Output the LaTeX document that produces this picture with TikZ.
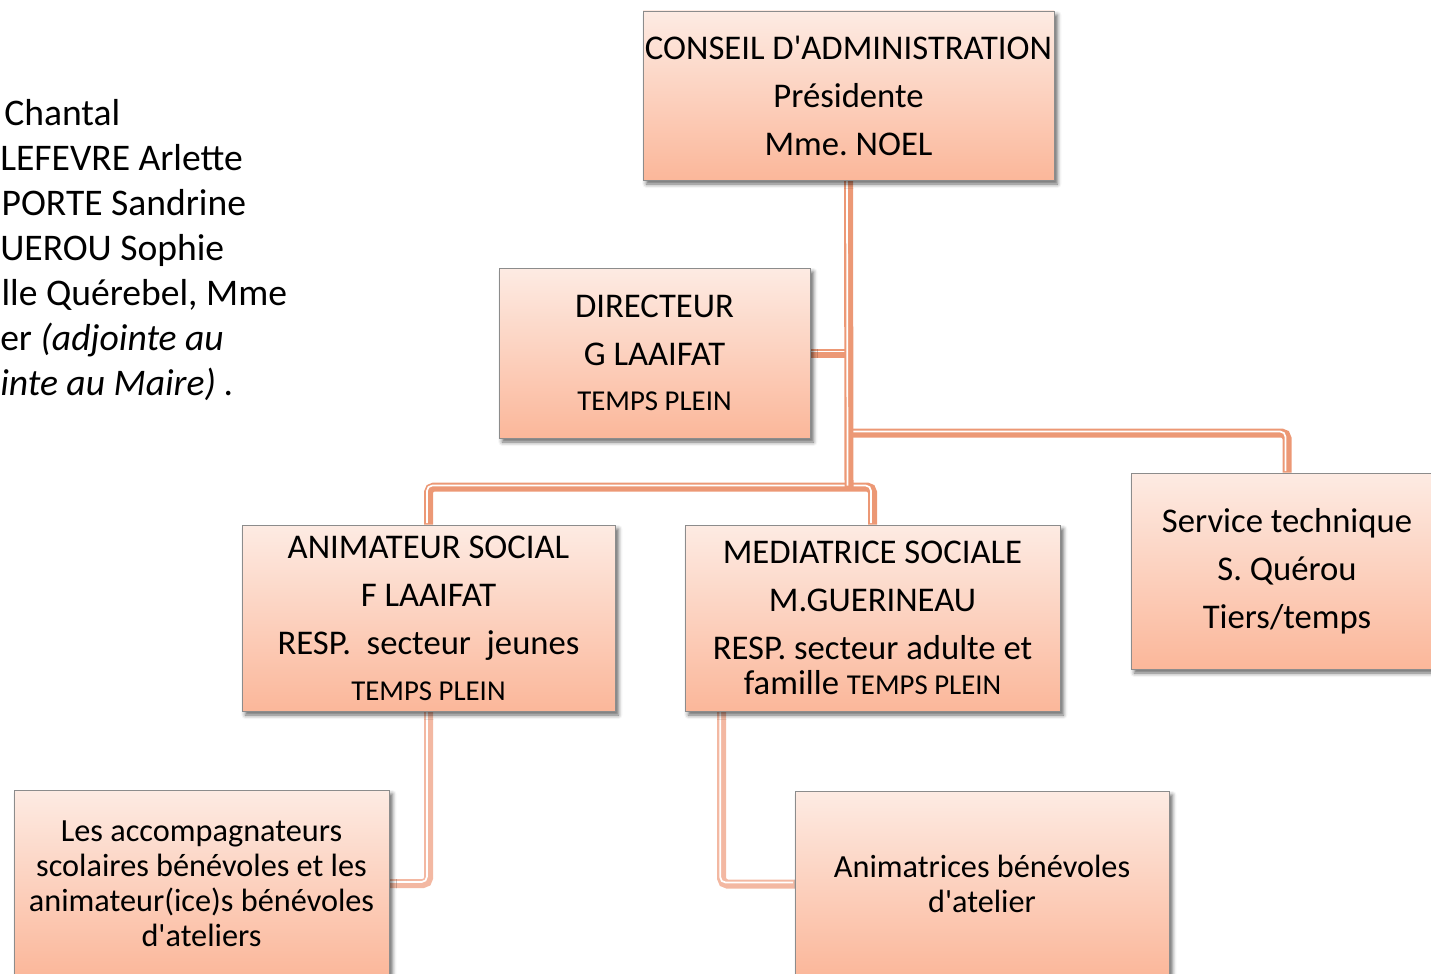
\documentclass[tikz,border=0pt]{standalone}
\usepackage{fontspec}
\setmainfont{Carlito}
\usetikzlibrary{calc,shadows.blur}
\definecolor{boxtop}{HTML}{FDEBE3}
\definecolor{boxbot}{HTML}{FBB79A}
\definecolor{connc}{HTML}{EC9875}
\definecolor{connl}{HTML}{F3B8A2}
\definecolor{boxline}{HTML}{8C8C8C}
\newcommand\bxfont{\fontsize{26}{36}\selectfont}
\newcommand\bxsmall{\fontsize{21.6}{36}\selectfont}
\newcommand\bxmid{\fontsize{24.2}{26.25}\selectfont}
\newcommand\lftfont{\fontsize{28.2}{33.75}\selectfont}
\newcommand\apos{\textquotesingle}
\begin{document}
\frenchspacing
\begin{tikzpicture}[x=0.75pt,y=-0.75pt,
  box/.style={draw=boxline, line width=0.6pt, top color=boxtop, bottom color=boxbot,
    inner sep=0pt, align=center, font=\bxfont,
    blur shadow={shadow xshift=2.5pt, shadow yshift=-3pt, shadow blur radius=3pt, shadow opacity=60}},
  link/.style={draw=connc, line width=6.75pt, rounded corners=4pt,
    postaction={draw=white, line width=1.3pt, transform canvas={shift={(-1.5,-1.5)}}}},
  linklight/.style={link, draw=connl}]
\useasboundingbox (0,0) rectangle (1431,974);
\clip (0,0) rectangle (1431,974);

% left text
\node[anchor=base west, align=left, font=\lftfont, inner sep=0pt] (members) at (0,395)
 {\hspace*{3pt}Chantal\\
  LEFEVRE Arlette\\
  \hspace*{1pt}PORTE Sandrine\\
  UEROU Sophie\\
  \hspace*{1pt}lle Quérebel, Mme\\
  er \textit{(adjointe au}\\
  \textit{inte au Maire) .}};

% junction coordinates
\coordinate (j1) at (852,433);
\coordinate (j2) at (849,487);
\coordinate (jd) at (846,353);

% invisible anchors of the boxes for the connectors
\node[minimum width=308.25pt, minimum height=126.75pt] (ca0) at (848.5,95.5) {};
\node[minimum width=233.25pt, minimum height=127.5pt] (dir0) at (654.5,353) {};
\node[minimum width=279.75pt, minimum height=139.5pt] (anim0) at (428.5,618) {};
\node[minimum width=281.25pt, minimum height=139.5pt] (med0) at (872.5,618) {};
\node[minimum width=234pt, minimum height=147pt] (serv0) at (1287,571) {};
\node[minimum width=281.25pt, minimum height=140.25pt] (acc0) at (201.5,883.5) {};
\node[minimum width=280.5pt, minimum height=139.5pt] (animb0) at (982,884) {};

% connectors
\draw[linklight] (anim0.south) |- (acc0.east);
\draw[linklight] ($(med0.south west)+(37,0)$) |- (animb0.west);
\draw[link] (dir0.east) -- (jd);
\draw[link] (j1) -| (serv0.north);
\draw[link] (anim0.north) |- (j2) -| (med0.north);
\draw[link] (ca0.south) -- (j2);

% boxes
\node[box, minimum width=308.25pt, minimum height=126.75pt] (ca) at (848.5,95.5)
 {CONSEIL D\apos ADMINISTRATION\\Présidente\\Mme. NOEL};
\node[box, minimum width=233.25pt, minimum height=127.5pt] (dir) at (654.5,353)
 {DIRECTEUR\\G LAAIFAT\\[-2.25pt]{\bxsmall TEMPS PLEIN}};
\node[box, minimum width=279.75pt, minimum height=139.5pt] (anim) at (428.5,618)
 {ANIMATEUR SOCIAL\\F LAAIFAT\\RESP.\ \ secteur\ \ jeunes\\[-1.5pt]{\bxsmall TEMPS PLEIN}};
\node[box, minimum width=281.25pt, minimum height=139.5pt] (med) at (872.5,618)
 {MEDIATRICE SOCIALE\\M.GUERINEAU\\RESP. secteur adulte et\\[-9.75pt]famille {\bxsmall TEMPS PLEIN}};
\node[box, minimum width=234pt, minimum height=147pt] (serv) at (1287,571)
 {Service technique\\S. Quérou\\Tiers/temps};
\node[box, font=\bxmid, minimum width=281.25pt, minimum height=140.25pt] (acc) at (201.5,883.5)
 {Les accompagnateurs\\scolaires bénévoles et les\\animateur(ice)s bénévoles\\d\apos ateliers};
\node[box, font=\bxmid, minimum width=280.5pt, minimum height=139.5pt] (animb) at (982,884)
 {Animatrices bénévoles\\d\apos atelier};
\end{tikzpicture}
\end{document}
